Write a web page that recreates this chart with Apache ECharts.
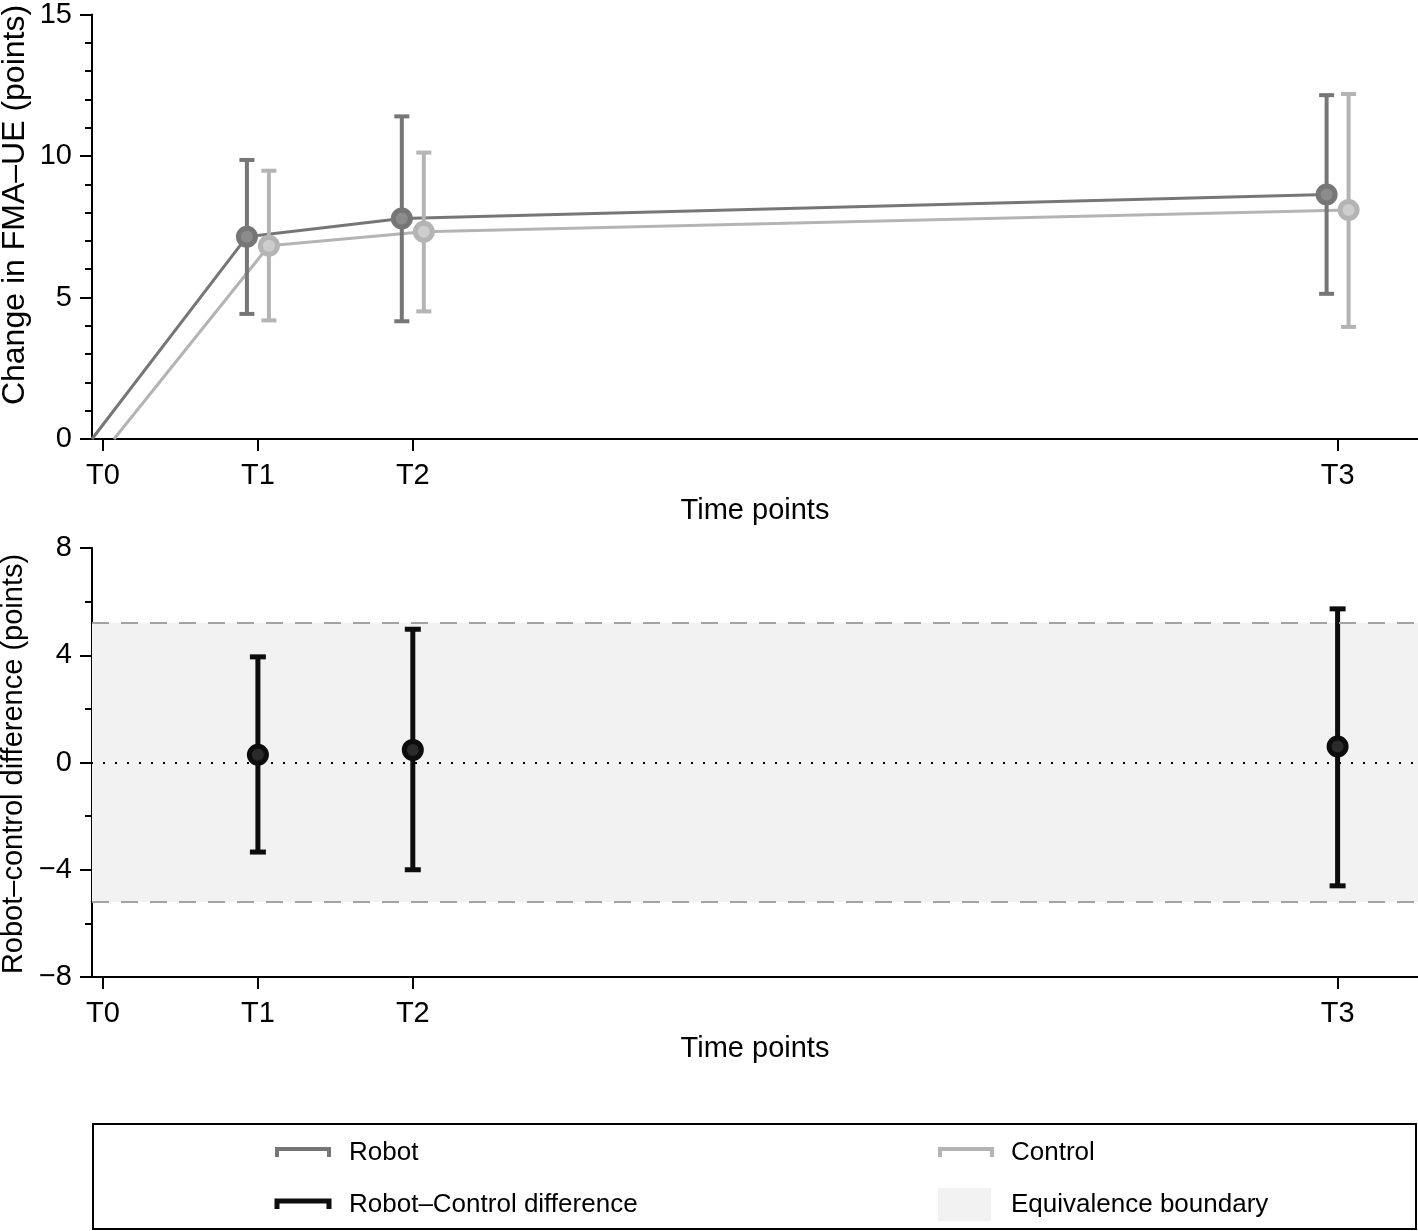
<!DOCTYPE html>
<html>
<head>
<meta charset="utf-8">
<script src="https://cdn.jsdelivr.net/npm/echarts@6/dist/echarts.min.js"></script>
<style>
html,body{margin:0;padding:0;background:#fff;}
#chart{width:1418px;height:1231px;}
</style>
</head>
<body>
<div id="chart"></div>
<script>
// ---- data ----
const timeLabels = ['T0', 'T1', 'T2', 'T3'];
const timePos = [0, 1, 2, 7.97];
const robotMean = [0, 7.15, 7.79, 8.64];
const robotLow = [null, 4.42, 4.16, 5.13];
const robotHigh = [null, 9.86, 11.40, 12.15];
const controlMean = [0, 6.83, 7.32, 8.09];
const controlLow = [null, 4.19, 4.51, 3.96];
const controlHigh = [null, 9.48, 10.12, 12.19];
const diffMean = [null, 0.29, 0.47, 0.60];
const diffLow = [null, -3.34, -4.00, -4.60];
const diffHigh = [null, 3.94, 4.97, 5.73];
const equivBound = 5.2;

// ---- styling ----
const FONT = '"Liberation Sans", Arial, Helvetica, sans-serif';
const ROBOT = '#767676';
const ROBOT_FILL = '#8c8c8c';
const CONTROL = '#b4b4b4';
const CONTROL_FILL = '#cdcdcd';
const DIFF = '#0d0d0d';
const DIFF_FILL = '#2b2b2b';
const DODGE = 0.071;
const X_MIN = -0.071, X_MAX = 8.489;

function lineData(mean, off) {
  return mean.map((v, i) => [timePos[i] + off, v]);
}
function pointData(mean, off) {
  const out = [];
  mean.forEach((v, i) => { if (i > 0 && v != null) out.push([timePos[i] + off, v]); });
  return out;
}
function barData(lo, hi, off) {
  const out = [];
  lo.forEach((v, i) => { if (v != null) out.push([timePos[i] + off, v, hi[i]]); });
  return out;
}
function errRender(color, lw, half) {
  return function (params, api) {
    const x = api.value(0), lo = api.value(1), hi = api.value(2);
    const a = api.coord([x, lo]), b = api.coord([x, hi]);
    const st = { stroke: color, lineWidth: lw };
    return {
      type: 'group',
      children: [
        { type: 'line', shape: { x1: a[0], y1: a[1], x2: b[0], y2: b[1] }, style: st },
        { type: 'line', shape: { x1: a[0] - half, y1: a[1], x2: a[0] + half, y2: a[1] }, style: st },
        { type: 'line', shape: { x1: b[0] - half, y1: b[1], x2: b[0] + half, y2: b[1] }, style: st }
      ]
    };
  };
}

function xAxisCfg(gridIndex) {
  return {
    type: 'value', gridIndex, min: X_MIN, max: X_MAX,
    axisLine: { show: true, onZero: false, lineStyle: { color: '#000', width: 2 } },
    axisTick: { show: true, length: 12, lineStyle: { color: '#000', width: 2 }, customValues: timePos },
    axisLabel: {
      show: true, customValues: timePos, margin: 22,
      color: '#000', fontFamily: FONT, fontSize: 29,
      formatter: v => { const i = timePos.findIndex(p => Math.abs(p - v) < 1e-6); return i >= 0 ? timeLabels[i] : ''; }
    },
    splitLine: { show: false },
    name: 'Time points', nameLocation: 'middle', nameGap: 57,
    nameTextStyle: { color: '#000', fontFamily: FONT, fontSize: 29 }
  };
}
function yAxisCfg(gridIndex, min, max, interval, minorSplit) {
  return {
    type: 'value', gridIndex, min, max, interval,
    axisLine: { show: true, onZero: false, lineStyle: { color: '#000', width: 2 } },
    axisTick: { show: true, length: 12, lineStyle: { color: '#000', width: 2 } },
    minorTick: { show: true, splitNumber: minorSplit, length: 7, lineStyle: { color: '#000', width: 2 } },
    axisLabel: {
      color: '#000', fontFamily: FONT, fontSize: 29, margin: 20,
      formatter: v => (v < 0 ? '\u2212' + Math.abs(v) : String(v))
    },
    splitLine: { show: false }, minorSplitLine: { show: false }
  };
}

const chart = echarts.init(document.getElementById('chart'), null, { renderer: 'canvas' });

const option = {
  backgroundColor: '#fff',
  animation: false,
  grid: [
    { left: 92, top: 10, width: 1326, height: 429 },
    { left: 92, top: 548, width: 1326, height: 429 }
  ],
  xAxis: [xAxisCfg(0), xAxisCfg(1)],
  yAxis: [yAxisCfg(0, 0, 15, 5, 5), yAxisCfg(1, -8, 8, 4, 2)],
  series: [
    // equivalence band & reference lines (bottom)
    {
      type: 'line', xAxisIndex: 1, yAxisIndex: 1, data: [], silent: true, z: 1,
      markArea: {
        silent: true,
        itemStyle: { color: '#f2f2f2' },
        data: [[{ yAxis: -equivBound }, { yAxis: equivBound }]]
      },
      markLine: {
        silent: true, symbol: 'none', label: { show: false },
        data: [
          { yAxis: equivBound, lineStyle: { color: '#a3a3a3', width: 2, type: [17, 12] } },
          { yAxis: -equivBound, lineStyle: { color: '#a3a3a3', width: 2, type: [17, 12] } },
          { yAxis: 0, lineStyle: { color: '#000', width: 2, type: [2, 10], dashOffset: -11 } }
        ]
      }
    },
    // top: lines
    {
      name: 'Robot', type: 'line', xAxisIndex: 0, yAxisIndex: 0, z: 2,
      data: lineData(robotMean, -DODGE), showSymbol: false, symbol: 'none',
      lineStyle: { color: ROBOT, width: 3 }
    },
    {
      name: 'Control', type: 'line', xAxisIndex: 0, yAxisIndex: 0, z: 2,
      data: lineData(controlMean, DODGE), showSymbol: false, symbol: 'none',
      lineStyle: { color: CONTROL, width: 3 }
    },
    // top: error bars
    {
      type: 'custom', xAxisIndex: 0, yAxisIndex: 0, z: 3,
      data: barData(robotLow, robotHigh, -DODGE), encode: { x: 0, y: [1, 2] },
      renderItem: errRender(ROBOT, 4, 7.5)
    },
    {
      type: 'custom', xAxisIndex: 0, yAxisIndex: 0, z: 3,
      data: barData(controlLow, controlHigh, DODGE), encode: { x: 0, y: [1, 2] },
      renderItem: errRender(CONTROL, 4, 7.5)
    },
    // top: markers
    {
      type: 'scatter', xAxisIndex: 0, yAxisIndex: 0, z: 4,
      data: pointData(robotMean, -DODGE), symbol: 'circle', symbolSize: 17,
      itemStyle: { color: ROBOT_FILL, borderColor: ROBOT, borderWidth: 5, opacity: 1 }
    },
    {
      type: 'scatter', xAxisIndex: 0, yAxisIndex: 0, z: 4,
      data: pointData(controlMean, DODGE), symbol: 'circle', symbolSize: 17,
      itemStyle: { color: CONTROL_FILL, borderColor: CONTROL, borderWidth: 5, opacity: 1 }
    },
    // bottom: differences
    {
      type: 'custom', xAxisIndex: 1, yAxisIndex: 1, z: 3,
      data: barData(diffLow, diffHigh, 0), encode: { x: 0, y: [1, 2] },
      renderItem: errRender(DIFF, 5, 8)
    },
    {
      type: 'scatter', xAxisIndex: 1, yAxisIndex: 1, z: 4,
      data: pointData(diffMean, 0), symbol: 'circle', symbolSize: 17,
      itemStyle: { color: DIFF_FILL, borderColor: DIFF, borderWidth: 5, opacity: 1 }
    }
  ],
  graphic: [
    // y-axis titles
    {
      type: 'text', x: 15, y: 205, rotation: Math.PI / 2,
      style: { text: 'Change in FMA\u2013UE (points)', fill: '#000', font: '32px ' + FONT, align: 'center', verticalAlign: 'middle' }
    },
    {
      type: 'text', x: 14, y: 764, rotation: Math.PI / 2,
      style: { text: 'Robot\u2013control difference (points)', fill: '#000', font: '29px ' + FONT, align: 'center', verticalAlign: 'middle' }
    },
    // legend box
    { type: 'rect', shape: { x: 93, y: 1124, width: 1323, height: 105 }, style: { fill: '#fff', stroke: '#000', lineWidth: 2 } },
    { type: 'polyline', shape: { points: [[277, 1157], [277, 1149], [329, 1149], [329, 1157]] }, style: { stroke: ROBOT, lineWidth: 4, fill: null } },
    { type: 'text', x: 349, y: 1153, style: { text: 'Robot', fill: '#000', font: '26px ' + FONT, verticalAlign: 'middle' } },
    { type: 'polyline', shape: { points: [[940, 1157], [940, 1149], [992, 1149], [992, 1157]] }, style: { stroke: CONTROL, lineWidth: 4, fill: null } },
    { type: 'text', x: 1011, y: 1153, style: { text: 'Control', fill: '#000', font: '26px ' + FONT, verticalAlign: 'middle' } },
    { type: 'polyline', shape: { points: [[277, 1209], [277, 1201], [329, 1201], [329, 1209]] }, style: { stroke: DIFF, lineWidth: 5, fill: null } },
    { type: 'text', x: 349, y: 1205, style: { text: 'Robot\u2013Control difference', fill: '#000', font: '26px ' + FONT, verticalAlign: 'middle' } },
    { type: 'rect', shape: { x: 938, y: 1188, width: 53, height: 33 }, style: { fill: '#f2f2f2' } },
    { type: 'text', x: 1011, y: 1205, style: { text: 'Equivalence boundary', fill: '#000', font: '26px ' + FONT, verticalAlign: 'middle' } }
  ]
};

chart.setOption(option);
</script>
</body>
</html>
